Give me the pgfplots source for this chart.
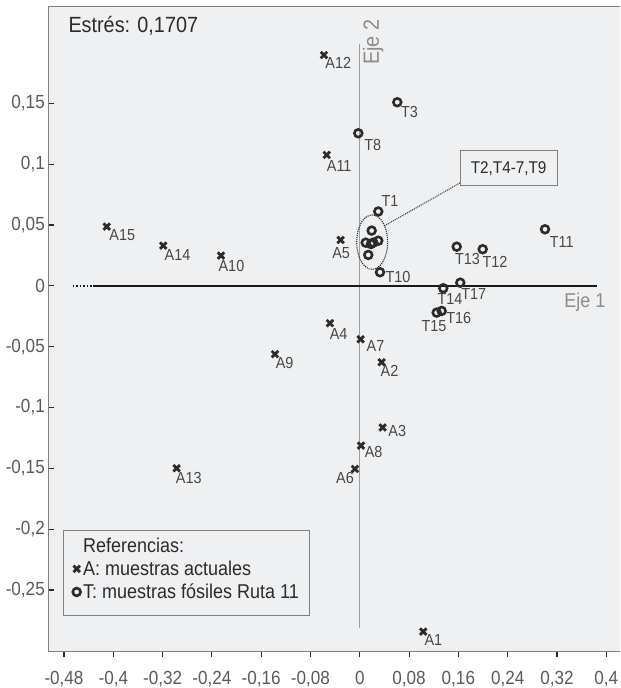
\documentclass[border=0pt]{standalone}
\usepackage{pgfplots}
\pgfplotsset{compat=1.18}
\usepackage{pgfplotstable}
\usepackage{fontspec}
\setmainfont{Liberation Sans}[FakeStretch=0.9]
\definecolor{bgc}{HTML}{EFF0F2}
\definecolor{axc}{HTML}{808080}
\definecolor{mkc}{HTML}{2B2B2B}
\definecolor{labc}{HTML}{474747}
\definecolor{tickc}{HTML}{5A5A5A}
\definecolor{ejec}{HTML}{8C8C8C}

\pgfplotstableread{
x y lbl dx dy
-0.0581 0.1897 A12 14.3 -7.5
-0.0537 0.1076 A11 12.5 -10.8
-0.4107 0.0487 A15 15.5 -8.3
-0.3189 0.0330 A14 14.2 -9.3
-0.2253 0.0248 A10 10.5 -10
-0.1376 -0.0562 A9 9.7 -8.7
-0.0310 0.0377 A5 0.5 -13
-0.0484 -0.0307 A4 8.7 -10.5
0.0015 -0.0439 A7 14.8 -7
0.0355 -0.0628 A2 7.8 -8.2
0.0372 -0.1164 A3 14.5 -3.2
0.0019 -0.1313 A8 12.7 -6.3
-0.0078 -0.1505 A6 -10 -9.3
0.1031 -0.2842 A1 10 -8
-0.2971 -0.1499 A13 12 -10
}\Atab

\pgfplotstableread{
x y lbl dx dy
0.0609 0.1509 T3 12.2 -10.2
-0.0024 0.1254 T8 14.5 -11.7
0.0300 0.0611 T1 11.7 10.3
0.3006 0.0465 T11 16.7 -12.7
0.1573 0.0322 T13 10.8 -12.1
0.1995 0.0301 T12 12.3 -12.4
0.0328 0.0112 T10 18 -5.2
0.1355 -0.0020 T14 6.7 -10.5
0.1631 0.0026 T17 13.4 -11.5
0.1248 -0.0220 T15 -2.7 -13.5
0.1329 -0.0206 T16 17 -6.8
}\Ttab

\pgfplotstableread{
x y
0.0193 0.0454
0.0096 0.0355
0.0182 0.0344
0.0300 0.0371
0.0138 0.0254
0.0219 0.0355
}\Ctab

\begin{document}
\begin{tikzpicture}
\begin{axis}[
  at={(0,0)}, anchor=south west,
  scale only axis, width=572pt, height=645pt,
  xmin=-0.5055, xmax=0.4228, ymin=-0.3001, ymax=0.2300,
  clip=false,
  axis x line*=bottom, axis y line*=left,
  axis line style={-, draw=axc, line width=0.9pt},
  axis background/.style={fill=bgc},
  xtick={-0.48,-0.4,-0.32,-0.24,-0.16,-0.08,0,0.08,0.16,0.24,0.32,0.4},
  ytick={-0.25,-0.2,-0.15,-0.1,-0.05,0,0.05,0.1,0.15},
  xtick align=outside, ytick align=inside,
  major tick length=6pt,
  tick style={draw=mkc, line width=1.1pt},
  /pgf/number format/assume math mode=true,
  tick label style={font=\fontsize{19}{21}\selectfont, text=tickc,
    /pgf/number format/fixed, /pgf/number format/precision=2,
    /pgf/number format/use comma},
  xticklabel style={yshift=-11pt},
  legend style={at={(axis description cs:0.0262,0.0543)}, anchor=south west,
    draw=axc, fill=bgc, font=\fontsize{20}{22}\selectfont, text=mkc,
    inner xsep=8pt, inner ysep=6pt, row sep=5pt, line width=0.8pt,
    nodes={inner xsep=2.5pt, inner ysep=1pt}},
  legend cell align=left,
  legend image code/.code={\draw[#1] plot coordinates {(5pt,0pt)};},
]
\addplot[forget plot, ejec!85, line width=1pt] coordinates {(0,0.1988) (0,-0.2814)};
\addplot[forget plot, black!90, line width=1.5pt] coordinates {(-0.4325,0) (0.3844,0)};
\addplot[forget plot, black!90, line width=1.5pt, dotted] coordinates {(-0.466,0) (-0.4325,0)};

\draw[densely dotted, mkc, line width=1pt] (axis cs:0.1626,0.0846) -- (axis cs:0.0398,0.0492);
\draw[densely dotted, mkc, line width=1.1pt] (axis cs:0.0201,0.0359) ellipse [x radius=15.5pt, y radius=27.2pt];
\node[draw=axc, fill=bgc, line width=0.8pt, minimum width=97pt, minimum height=35pt, inner sep=0pt,
  text=mkc, font=\fontsize{17}{19}\selectfont] at (axis cs:0.2416,0.0967) {T2,T4-7,T9};

\addlegendimage{empty legend}
\addlegendentry{Referencias:}

\addplot[only marks, mark=x, mark size=4.6pt, line width=2.8pt, draw=mkc, mark options={draw=mkc, line width=2.8pt},
  nodes near coords, point meta=explicit symbolic,
  visualization depends on={\thisrow{dx}\as\dx},
  visualization depends on={\thisrow{dy}\as\dy},
  every node near coord/.append style={anchor=center, inner sep=0pt,
     xshift=\dx pt, yshift=\dy pt, text=labc, font=\fontsize{16}{18}\selectfont}]
  table[x=x, y=y, meta=lbl] {\Atab};
\addlegendentry{A: muestras actuales}

\addplot[only marks, mark=o, mark size=3.9pt, line width=2.6pt, draw=mkc, mark options={draw=mkc, fill=white, line width=2.6pt},
  nodes near coords, point meta=explicit symbolic,
  visualization depends on={\thisrow{dx}\as\dx},
  visualization depends on={\thisrow{dy}\as\dy},
  every node near coord/.append style={anchor=center, inner sep=0pt,
     xshift=\dx pt, yshift=\dy pt, text=labc, font=\fontsize{16}{18}\selectfont}]
  table[x=x, y=y, meta=lbl] {\Ttab};
\addlegendentry{T: muestras fósiles Ruta 11}

\addlegendimage{empty legend}
\addlegendentry{}

\addplot[forget plot, only marks, mark=o, mark size=3.9pt, line width=2.6pt, draw=mkc, mark options={draw=mkc, fill=white, line width=2.6pt}]
  table[x=x, y=y] {\Ctab};

\draw[axc, line width=0.9pt] (rel axis cs:0,1) -- (rel axis cs:1,1);
\node[anchor=west, font=\fontsize{22}{24}\selectfont, text=mkc] at (axis description cs:0.0292,0.969) {Estrés: 0,1707};
\node[font=\fontsize{20}{22}\selectfont, text=ejec] at (axis cs:0.3655,-0.0136) {Eje 1};
\node[rotate=90, font=\fontsize{22}{24}\selectfont, text=ejec] at (axis cs:0.0219,0.2001) {Eje 2};
\end{axis}
\pgfresetboundingbox
\path[use as bounding box] (-48.3pt,-37pt) rectangle (572.7pt,651pt);
\end{tikzpicture}
\end{document}
